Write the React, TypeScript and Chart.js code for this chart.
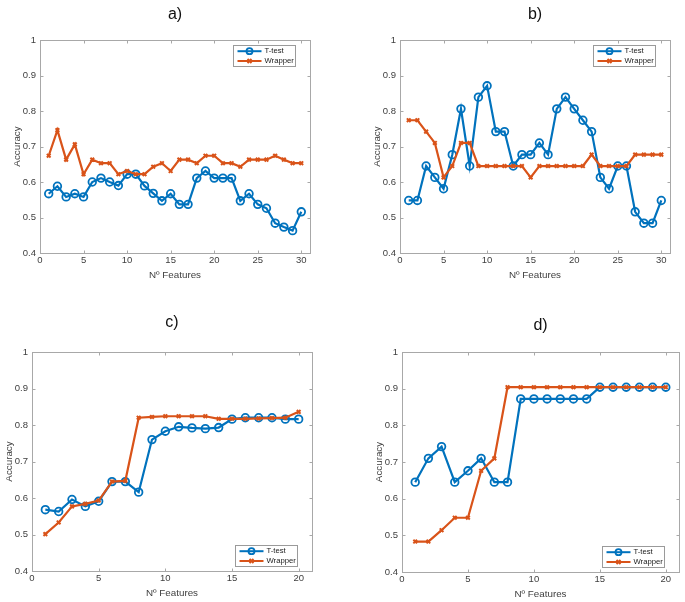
import React, { useEffect, useRef } from 'react';
import { Chart, registerables } from 'chart.js';

Chart.register(...registerables);

// ---------- data ----------
const featuresAB = [1, 2, 3, 4, 5, 6, 7, 8, 9, 10, 11, 12, 13, 14, 15, 16, 17, 18, 19, 20, 21, 22, 23, 24, 25, 26, 27, 28, 29, 30];
const featuresCD = [1, 2, 3, 4, 5, 6, 7, 8, 9, 10, 11, 12, 13, 14, 15, 16, 17, 18, 19, 20];

const tTestA = [0.567, 0.588, 0.558, 0.567, 0.558, 0.600, 0.611, 0.600, 0.590, 0.622, 0.622, 0.589, 0.568, 0.547, 0.567, 0.537, 0.537, 0.611, 0.631, 0.611, 0.611, 0.611, 0.547, 0.567, 0.537, 0.526, 0.484, 0.473, 0.463, 0.516];
const wrapperA = [0.674, 0.746, 0.663, 0.706, 0.622, 0.663, 0.653, 0.653, 0.622, 0.631, 0.622, 0.622, 0.643, 0.653, 0.631, 0.663, 0.663, 0.653, 0.674, 0.674, 0.653, 0.653, 0.643, 0.663, 0.663, 0.663, 0.674, 0.663, 0.653, 0.653];

const tTestB = [0.548, 0.548, 0.645, 0.613, 0.581, 0.677, 0.806, 0.645, 0.839, 0.871, 0.742, 0.742, 0.645, 0.677, 0.677, 0.710, 0.677, 0.806, 0.839, 0.806, 0.774, 0.742, 0.613, 0.581, 0.645, 0.645, 0.516, 0.484, 0.484, 0.548];
const wrapperB = [0.774, 0.774, 0.742, 0.710, 0.613, 0.645, 0.710, 0.710, 0.645, 0.645, 0.645, 0.645, 0.645, 0.645, 0.613, 0.645, 0.645, 0.645, 0.645, 0.645, 0.645, 0.677, 0.645, 0.645, 0.645, 0.645, 0.677, 0.677, 0.677, 0.677];

const tTestC = [0.568, 0.563, 0.596, 0.577, 0.591, 0.645, 0.645, 0.616, 0.760, 0.783, 0.795, 0.792, 0.790, 0.793, 0.816, 0.820, 0.820, 0.820, 0.816, 0.816];
const wrapperC = [0.501, 0.533, 0.577, 0.584, 0.593, 0.645, 0.647, 0.820, 0.822, 0.824, 0.824, 0.824, 0.824, 0.817, 0.817, 0.817, 0.818, 0.819, 0.820, 0.836];

const tTestD = [0.645, 0.710, 0.742, 0.645, 0.676, 0.710, 0.645, 0.645, 0.872, 0.872, 0.872, 0.872, 0.872, 0.872, 0.904, 0.904, 0.904, 0.904, 0.904, 0.904];
const wrapperD = [0.483, 0.483, 0.514, 0.548, 0.548, 0.676, 0.710, 0.904, 0.904, 0.904, 0.904, 0.904, 0.904, 0.904, 0.904, 0.904, 0.904, 0.904, 0.904, 0.904];

const yTicks = [0.4, 0.5, 0.6, 0.7, 0.8, 0.9, 1];
const xTicksAB = [0, 5, 10, 15, 20, 25, 30];
const xTicksCD = [0, 5, 10, 15, 20];
const seriesNames = ['T-test', 'Wrapper'];
const panelTitles = ['a)', 'b)', 'c)', 'd)'];
const xAxisTitle = 'Nº Features';
const yAxisTitle = 'Accuracy';

// ---------- styles ----------
const BLUE = '#0072BD';
const ORANGE = '#D95319';
const AXIS = '#a8a8a8';
const TEXT = '#404040';
const FONT = "'Liberation Sans', Arial, Helvetica, sans-serif";

type PanelCfg = {
  left: number; top: number; width: number; height: number;
  area: [number, number, number, number];
  xMax: number; xTicks: number[];
  features: number[]; tTest: number[]; wrapper: number[];
  title: string; titleY: number; legend: 'top' | 'bottom';
};

const panels: PanelCfg[] = [
  { left: 0, top: 0, width: 342, height: 301, area: [40, 40, 310, 253], xMax: 31, xTicks: xTicksAB, features: featuresAB, tTest: tTestA, wrapper: wrapperA, title: panelTitles[0], titleY: 15, legend: 'top' },
  { left: 342, top: 0, width: 343, height: 301, area: [58, 40, 328, 253], xMax: 31, xTicks: xTicksAB, features: featuresAB, tTest: tTestB, wrapper: wrapperB, title: panelTitles[1], titleY: 15, legend: 'top' },
  { left: 0, top: 301, width: 342, height: 301, area: [32, 51, 312, 270], xMax: 21, xTicks: xTicksCD, features: featuresCD, tTest: tTestC, wrapper: wrapperC, title: panelTitles[2], titleY: 22, legend: 'bottom' },
  { left: 342, top: 301, width: 343, height: 301, area: [60, 51, 340, 271], xMax: 21, xTicks: xTicksCD, features: featuresCD, tTest: tTestD, wrapper: wrapperD, title: panelTitles[3], titleY: 25, legend: 'bottom' },
];

function drawCircle(ctx: CanvasRenderingContext2D, x: number, y: number, r: number, color: string) {
  ctx.save();
  ctx.strokeStyle = color;
  ctx.lineWidth = 1.8;
  ctx.beginPath();
  ctx.arc(x, y, r, 0, Math.PI * 2);
  ctx.stroke();
  ctx.restore();
}

function drawCross(ctx: CanvasRenderingContext2D, x: number, y: number, r: number, color: string) {
  ctx.save();
  ctx.strokeStyle = color;
  ctx.lineWidth = 2;
  ctx.beginPath();
  ctx.moveTo(x - r, y - r); ctx.lineTo(x + r, y + r);
  ctx.moveTo(x - r, y + r); ctx.lineTo(x + r, y - r);
  ctx.stroke();
  ctx.restore();
}

function makePlugins(cfg: PanelCfg) {
  const frame = {
    id: 'frame',
    beforeDatasetsDraw(chart: any) {
      const { ctx, chartArea: a, scales } = chart;
      ctx.save();
      ctx.strokeStyle = AXIS;
      ctx.lineWidth = 1;
      const l = Math.round(a.left) + 0.5, r = Math.round(a.right) + 0.5;
      const t = Math.round(a.top) + 0.5, b = Math.round(a.bottom) + 0.5;
      ctx.strokeRect(l, t, r - l, b - t);
      ctx.beginPath();
      const tl = 3;
      for (const v of cfg.xTicks) {
        const x = Math.round(scales.x.getPixelForValue(v)) + 0.5;
        ctx.moveTo(x, b); ctx.lineTo(x, b - tl);
        ctx.moveTo(x, t); ctx.lineTo(x, t + tl);
      }
      for (const v of yTicks) {
        const y = Math.round(scales.y.getPixelForValue(v)) + 0.5;
        ctx.moveTo(l, y); ctx.lineTo(l + tl, y);
        ctx.moveTo(r, y); ctx.lineTo(r - tl, y);
      }
      ctx.stroke();
      ctx.restore();
    },
  };
  const legendBox = {
    id: 'legendBox',
    afterDraw(chart: any) {
      const { ctx, chartArea: a } = chart;
      const w = 62, h = 21;
      const right = a.right - 15;
      const left = Math.round(right - w) + 0.5;
      const top = Math.round(cfg.legend === 'top' ? a.top + 5 : a.bottom - 5 - h) + 0.5;
      ctx.save();
      ctx.fillStyle = '#ffffff';
      ctx.fillRect(left, top, w, h);
      ctx.strokeStyle = '#9a9a9a';
      ctx.lineWidth = 1;
      ctx.strokeRect(left, top, w, h);
      const rows = [top + 5.7, top + 15.5];
      const colors = [BLUE, ORANGE];
      rows.forEach((y, i) => {
        ctx.strokeStyle = colors[i];
        ctx.lineWidth = 2;
        ctx.beginPath();
        ctx.moveTo(left + 4, y); ctx.lineTo(left + 28, y);
        ctx.stroke();
        if (i === 0) drawCircle(ctx, left + 16, y, 3, colors[i]);
        else drawCross(ctx, left + 16, y, 2, colors[i]);
        ctx.fillStyle = '#222';
        ctx.font = `7.7px ${FONT}`;
        ctx.textBaseline = 'middle';
        ctx.textAlign = 'left';
        ctx.fillText(seriesNames[i], left + 31, y);
      });
      ctx.restore();
    },
  };
  const panelTitle = {
    id: 'panelTitle',
    afterDraw(chart: any) {
      const { ctx, chartArea: a } = chart;
      ctx.save();
      ctx.fillStyle = '#111';
      ctx.font = `16px ${FONT}`;
      ctx.textAlign = 'center';
      ctx.textBaseline = 'middle';
      ctx.fillText(cfg.title, (a.left + a.right) / 2, cfg.titleY);
      ctx.restore();
    },
  };
  return [frame, legendBox, panelTitle];
}

function buildChart(canvas: HTMLCanvasElement, cfg: PanelCfg) {
  const [al, at, ar, ab] = cfg.area;
  return new Chart(canvas, {
    type: 'line',
    data: {
      datasets: [
        {
          label: seriesNames[0],
          data: cfg.features.map((x, i) => ({ x, y: cfg.tTest[i] })),
          borderColor: BLUE,
          borderWidth: 2.2,
          pointStyle: 'circle',
          pointRadius: 3.8,
          pointBorderWidth: 1.8,
          pointBorderColor: BLUE,
          pointBackgroundColor: 'rgba(0,0,0,0)',
          tension: 0,
          order: 2,
        },
        {
          label: seriesNames[1],
          data: cfg.features.map((x, i) => ({ x, y: cfg.wrapper[i] })),
          borderColor: ORANGE,
          borderWidth: 2.2,
          pointStyle: 'crossRot',
          pointRadius: 2.6,
          pointBorderWidth: 2,
          pointBorderColor: ORANGE,
          pointBackgroundColor: ORANGE,
          tension: 0,
          order: 1,
        },
      ],
    },
    options: {
      animation: false,
      responsive: false,
      maintainAspectRatio: false,
      devicePixelRatio: 1,
      layout: {
        padding: { left: al - 30, top: at, right: cfg.width - ar, bottom: cfg.height - ab - 30 },
      },
      plugins: {
        legend: { display: false },
        tooltip: { enabled: false },
        title: { display: false },
      },
      scales: {
        x: {
          type: 'linear',
          min: 0,
          max: cfg.xMax,
          afterFit: (s: any) => { s.height = 30; },
          afterBuildTicks: (s: any) => { s.ticks = cfg.xTicks.map((v) => ({ value: v })); },
          grid: { display: false, drawTicks: false },
          border: { display: false },
          ticks: { padding: 1.5, color: TEXT, font: { family: FONT, size: 9.5 }, maxRotation: 0, autoSkip: false, includeBounds: false },
          title: { display: true, text: xAxisTitle, color: TEXT, font: { family: FONT, size: 9.8 }, padding: { top: 0, bottom: 2.3 } },
        },
        y: {
          type: 'linear',
          min: 0.4,
          max: 1,
          afterFit: (s: any) => { s.width = 30; },
          afterBuildTicks: (s: any) => { s.ticks = yTicks.map((v) => ({ value: v })); },
          grid: { display: false, drawTicks: false },
          border: { display: false },
          ticks: {
            padding: 4,
            color: TEXT,
            font: { family: FONT, size: 9.5 },
            callback: (v: any) => String(Math.round(Number(v) * 10) / 10),
          },
          title: { display: true, text: yAxisTitle, color: TEXT, font: { family: FONT, size: 9.8 }, padding: { top: 1, bottom: 0 } },
        },
      },
    } as any,
    plugins: makePlugins(cfg) as any,
  });
}

export default function App() {
  const refs = useRef<(HTMLCanvasElement | null)[]>([]);
  useEffect(() => {
    const charts = panels.map((p, i) => buildChart(refs.current[i] as HTMLCanvasElement, p));
    return () => charts.forEach((c) => c.destroy());
  }, []);
  return (
    <div style={{ position: 'absolute', left: 0, top: 0, width: 685, height: 602, background: '#fff' }}>
      {panels.map((p, i) => (
        <canvas
          key={i}
          ref={(el) => { refs.current[i] = el; }}
          width={p.width}
          height={p.height}
          style={{ position: 'absolute', left: p.left, top: p.top, width: p.width, height: p.height }}
        />
      ))}
    </div>
  );
}
